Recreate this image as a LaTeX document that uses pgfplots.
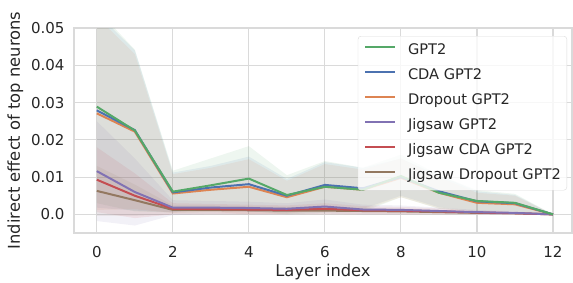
\documentclass[border=0pt]{standalone}
\usepackage{pgfplots}
\pgfplotsset{compat=1.18}
\usepackage{fontspec}
\setmainfont{DejaVu Sans}
\definecolor{cgpt}{HTML}{55A868}
\definecolor{ccda}{HTML}{4C72B0}
\definecolor{cdrop}{HTML}{DD8452}
\definecolor{cjig}{HTML}{8172B3}
\definecolor{cjigcda}{HTML}{C44E52}
\definecolor{cjigdrop}{HTML}{937860}
\definecolor{gridc}{HTML}{DADADA}
\begin{document}
\begin{tikzpicture}
\useasboundingbox (0,0) rectangle (573pt,282pt);
\begin{axis}[
  at={(74pt,49pt)}, anchor=south west,
  scale only axis, width=498pt, height=205pt,
  xmin=-0.6, xmax=12.5, ymin=-0.005, ymax=0.05,
  xtick={0,2,4,6,8,10,12},
  ytick={0,0.01,0.02,0.03,0.04,0.05},
  yticklabels={0.0,0.01,0.02,0.03,0.04,0.05},
  /pgf/number format/assume math mode=true,
  scaled y ticks=false,
  tick style={draw=none},
  grid=major,
  major grid style={gridc, line width=1.1pt},
  axis line style={gridc, line width=1.1pt},
  ticklabel style={font=\fontsize{15}{18}\selectfont, text=black!85},
  yticklabel style={xshift=-6pt},
  xticklabel style={yshift=-10pt},
  label style={font=\fontsize{16.3}{19}\selectfont, text=black!85},
  xlabel={Layer index},
  ylabel={Indirect effect of top neurons},
  xlabel style={inner sep=0pt, yshift=-3pt},
  ylabel style={yshift=1pt},
  legend cell align=left,
  legend style={at={(1,1)}, anchor=north east, xshift=-5pt, yshift=-8pt,
    draw=gridc, rounded corners=3pt, fill=white, fill opacity=0.8, text opacity=1,
    font=\fontsize{14.6}{17}\selectfont, text=black!85,
    nodes={inner sep=0pt, text height=10.5pt, text depth=3.5pt},
    row sep=11pt, column sep=12pt, inner xsep=6pt, inner ysep=7.5pt},
  legend image code/.code={\draw[#1] (0pt,3.5pt) -- (30pt,3.5pt);},
]
% confidence bands
\addplot[forget plot, draw=none, fill=cgpt, fill opacity=0.1] coordinates {
(0,0.055)(1,0.0442)(2,0.0117)(3,0.0150)(4,0.0183)(5,0.0105)(6,0.0143)(7,0.0125)(8,0.0160)(9,0.0105)(10,0.0065)(11,0.0055)(12,0.0)
(12,0.0)(11,0.0007)(10,0.0009)(9,0.0015)(8,0.0046)(7,0.0007)(6,0.0005)(5,0.0)(4,0.0009)(3,0.0006)(2,0.0005)(1,0.0008)(0,0.003)} -- cycle;
\addplot[forget plot, draw=none, fill=ccda, fill opacity=0.1] coordinates {
(0,0.054)(1,0.044)(2,0.0112)(3,0.0130)(4,0.0155)(5,0.0095)(6,0.0140)(7,0.0125)(8,0.0150)(9,0.0105)(10,0.0062)(11,0.0052)(12,0.0)
(12,0.0)(11,0.0008)(10,0.0008)(9,0.0019)(8,0.0050)(7,0.0015)(6,0.0018)(5,0.0005)(4,0.0007)(3,0.0014)(2,0.0006)(1,0.0010)(0,0.0018)} -- cycle;
\addplot[forget plot, draw=none, fill=cdrop, fill opacity=0.1] coordinates {
(0,0.053)(1,0.043)(2,0.0108)(3,0.0125)(4,0.0148)(5,0.0090)(6,0.0135)(7,0.0120)(8,0.0150)(9,0.0100)(10,0.0058)(11,0.0050)(12,0.0)
(12,0.0)(11,0.0004)(10,0.0004)(9,0.0016)(8,0.0046)(7,0.0012)(6,0.0013)(5,0.0002)(4,0.0)(3,0.0007)(2,0.0004)(1,0.0014)(0,0.0012)} -- cycle;
\addplot[forget plot, draw=none, fill=cjig, fill opacity=0.1] coordinates {
(0,0.025)(1,0.015)(2,0.0038)(3,0.0036)(4,0.0034)(5,0.0030)(6,0.0040)(7,0.0026)(8,0.0024)(9,0.0018)(10,0.0012)(11,0.0008)(12,0.0)
(12,0.0)(11,0.0)(10,0.0)(9,0.0)(8,0.0)(7,0.0)(6,0.0002)(5,0.0)(4,0.0)(3,0.0)(2,-0.0002)(1,-0.003)(0,-0.0018)} -- cycle;
\addplot[forget plot, draw=none, fill=cjigcda, fill opacity=0.1] coordinates {
(0,0.018)(1,0.011)(2,0.0030)(3,0.0028)(4,0.0026)(5,0.0024)(6,0.0030)(7,0.0022)(8,0.0020)(9,0.0016)(10,0.0010)(11,0.0006)(12,0.0)
(12,0.0)(11,0.0)(10,0.0)(9,0.0)(8,0.0)(7,0.0)(6,0.0)(5,0.0)(4,0.0)(3,0.0)(2,0.0)(1,-0.001)(0,0.0006)} -- cycle;
\addplot[forget plot, draw=none, fill=cjigdrop, fill opacity=0.1] coordinates {
(0,0.013)(1,0.008)(2,0.0024)(3,0.0024)(4,0.0022)(5,0.0020)(6,0.0020)(7,0.0018)(8,0.0016)(9,0.0012)(10,0.0008)(11,0.0006)(12,0.0)
(12,0.0)(11,0.0)(10,0.0)(9,0.0)(8,0.0)(7,0.0)(6,0.0)(5,0.0)(4,0.0)(3,0.0)(2,0.0)(1,-0.0004)(0,-0.0004)} -- cycle;
% mean lines
\addplot[forget plot, cjigdrop, line width=2pt] coordinates {
(0,0.0063)(1,0.0038)(2,0.0012)(3,0.0012)(4,0.0011)(5,0.0010)(6,0.0010)(7,0.0009)(8,0.0008)(9,0.0006)(10,0.0004)(11,0.0003)(12,0.0)};
\addplot[forget plot, cjigcda, line width=2pt] coordinates {
(0,0.0093)(1,0.0050)(2,0.0015)(3,0.0014)(4,0.0013)(5,0.0012)(6,0.0015)(7,0.0011)(8,0.0010)(9,0.0008)(10,0.0005)(11,0.0003)(12,0.0)};
\addplot[forget plot, cjig, line width=2pt] coordinates {
(0,0.0116)(1,0.0060)(2,0.0018)(3,0.0018)(4,0.0017)(5,0.0015)(6,0.0021)(7,0.0013)(8,0.0012)(9,0.0009)(10,0.0006)(11,0.0004)(12,0.0)};
\addplot[forget plot, cdrop, line width=2pt] coordinates {
(0,0.0271)(1,0.0222)(2,0.0056)(3,0.0066)(4,0.0074)(5,0.0046)(6,0.0074)(7,0.0066)(8,0.0098)(9,0.0058)(10,0.0031)(11,0.0027)(12,0.0)};
\addplot[forget plot, ccda, line width=2pt] coordinates {
(0,0.0279)(1,0.0226)(2,0.0059)(3,0.0072)(4,0.0081)(5,0.0050)(6,0.0079)(7,0.0070)(8,0.0100)(9,0.0062)(10,0.0035)(11,0.0030)(12,0.0)};
\addplot[forget plot, cgpt, line width=2pt] coordinates {
(0,0.0289)(1,0.0225)(2,0.0061)(3,0.0078)(4,0.0096)(5,0.0052)(6,0.0074)(7,0.0066)(8,0.0103)(9,0.0058)(10,0.0036)(11,0.0031)(12,0.0)};
% legend
\addlegendimage{cgpt, line width=2pt}\addlegendentry{GPT2}
\addlegendimage{ccda, line width=2pt}\addlegendentry{CDA GPT2}
\addlegendimage{cdrop, line width=2pt}\addlegendentry{Dropout GPT2}
\addlegendimage{cjig, line width=2pt}\addlegendentry{Jigsaw GPT2}
\addlegendimage{cjigcda, line width=2pt}\addlegendentry{Jigsaw CDA GPT2}
\addlegendimage{cjigdrop, line width=2pt}\addlegendentry{Jigsaw Dropout GPT2}
\end{axis}
\end{tikzpicture}
\end{document}
